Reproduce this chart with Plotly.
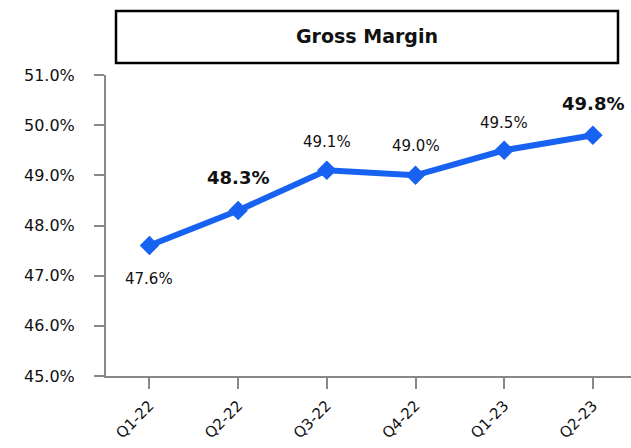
import plotly.graph_objects as go

categories = ["Q1-22", "Q2-22", "Q3-22", "Q4-22", "Q1-23", "Q2-23"]
gross_margin = [47.6, 48.3, 49.1, 49.0, 49.5, 49.8]
label_text = ["47.6%", "48.3%", "49.1%", "49.0%", "49.5%", "49.8%"]
label_bold = [False, True, False, False, False, True]
y_ticks = [45, 46, 47, 48, 49, 50, 51]
y_tick_labels = ["45.0%", "46.0%", "47.0%", "48.0%", "49.0%", "50.0%", "51.0%"]
title_text = "Gross Margin"

# styling (label vertical offsets in px)
label_offsets = [-33, 33, 28, 29, 27, 32]

FONT = "DejaVu Sans"
LINE_COLOR = "#1862f2"
AXIS_COLOR = "#888888"

fig = go.Figure()
fig.add_trace(go.Scatter(
    x=categories, y=gross_margin, mode="lines+markers",
    line=dict(color=LINE_COLOR, width=6),
    marker=dict(symbol="diamond", size=15, color=LINE_COLOR),
    hoverinfo="skip", showlegend=False,
))

for cat, val, txt, bold, off in zip(categories, gross_margin, label_text, label_bold, label_offsets):
    fig.add_annotation(
        x=cat, y=val, xref="x", yref="y", text=f"<b>{txt}</b>" if bold else txt,
        showarrow=False, yshift=off, xanchor="center", yanchor="middle",
        font=dict(family=FONT, size=18 if bold else 15, color="#111111"),
    )

# title box (paper coords relative to plot area)
L, R, T, B, W, H = 106, 0, 75, 72, 631, 448
pw, ph = W - L - R, H - T - B
def px(xp): return (xp - L) / pw
def py(yp): return (H - B - yp) / ph

fig.add_shape(type="rect", xref="paper", yref="paper",
              x0=px(116), x1=px(618), y0=py(63), y1=py(11),
              line=dict(color="#000000", width=2.5), fillcolor="white")
fig.add_annotation(xref="paper", yref="paper", x=px(367), y=py(36),
                   xanchor="center", yanchor="middle",
                   text=f"<b>{title_text}</b>", showarrow=False,
                   font=dict(family=FONT, size=19, color="#111111"))

fig.update_layout(
    width=W, height=H,
    margin=dict(l=L, r=R, t=T, b=B, pad=0),
    paper_bgcolor="white", plot_bgcolor="white",
    font=dict(family=FONT, color="#111111"),
    xaxis=dict(
        type="category", range=[-0.49, 5.43],
        showline=True, linecolor=AXIS_COLOR, linewidth=2,
        ticks="outside", ticklen=11, tickwidth=2, tickcolor=AXIS_COLOR,
        tickangle=-45, tickfont=dict(size=15, family=FONT, color="#111111"),
        ticklabelstandoff=2,
        showgrid=False, zeroline=False, automargin=False,
    ),
    yaxis=dict(
        range=[45, 51], tickvals=y_ticks, ticktext=y_tick_labels,
        showline=True, linecolor=AXIS_COLOR, linewidth=2,
        ticks="outside", ticklen=10, tickwidth=2, tickcolor=AXIS_COLOR,
        tickfont=dict(size=16, family=FONT, color="#111111"),
        ticklabelstandoff=16,
        showgrid=False, zeroline=False, automargin=False,
    ),
)

fig.write_html("out.html", config={"displayModeBar": False},
               post_script="document.body.style.margin='0';document.body.style.padding='0';")
